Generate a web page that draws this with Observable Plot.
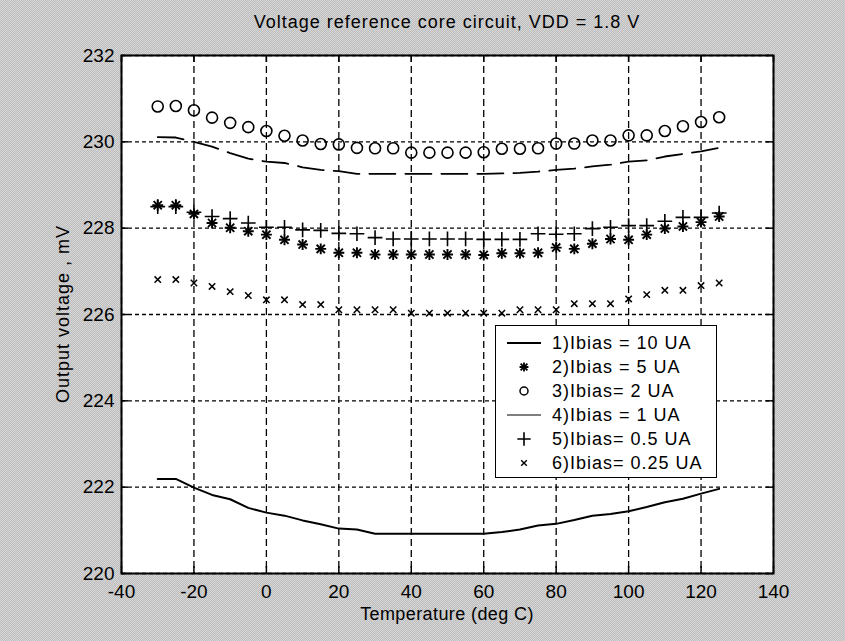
<!DOCTYPE html>
<html>
<head>
<meta charset="utf-8">
<script src="https://cdn.jsdelivr.net/npm/d3@7"></script>
<script src="https://cdn.jsdelivr.net/npm/@observablehq/plot@0.6"></script>
<style>
  html, body { margin: 0; padding: 0; }
  #fig {
    position: relative; width: 845px; height: 641px; overflow: hidden;
    background-color: #c8c8c8;
    background-image: repeating-conic-gradient(#bdbdbd 0 25%, #d6d6d6 0 50%);
    background-size: 2px 2px;
    font-family: "Liberation Sans", Arial, Helvetica, sans-serif; color: #000;
  }
  #chart { position: absolute; left: 0; top: 0; }
  .lbl { position: absolute; font-size: 18px; line-height: 18px; white-space: nowrap; }
  #title { left: 121px; width: 652px; top: 13px; text-align: center; letter-spacing: 1px; }
  #xlabel { left: 121px; width: 652px; top: 605px; text-align: center; letter-spacing: 0.4px; }
  #ylabel { left: 63px; top: 314px; transform: translate(-50%, -50%) rotate(-90deg); letter-spacing: 1px; }
  #legend {
    position: absolute; left: 495px; top: 325px; width: 222px; height: 153px;
    box-sizing: border-box; background: #fff; border: 1.5px solid #000;
  }
  .row { position: absolute; left: 0; height: 24px; width: 100%; }
  .row svg { position: absolute; left: 8px; top: 0; }
  .row span { position: absolute; left: 56px; top: 3px; font-size: 18px; line-height: 18px; letter-spacing: 1px; white-space: nowrap; }
</style>
</head>
<body>
<div id="fig">
  <div id="chart"></div>
  <div id="title" class="lbl">Voltage reference core circuit, VDD = 1.8 V</div>
  <div id="xlabel" class="lbl">Temperature (deg C)</div>
  <div id="ylabel" class="lbl">Output voltage , mV</div>
  <div id="legend"></div>
</div>
<script>
// Temperature sweep (deg C)
const temps = [-30, -25, -20, -15, -10, -5, 0, 5, 10, 15, 20, 25, 30, 35, 40, 45,
               50, 55, 60, 65, 70, 75, 80, 85, 90, 95, 100, 105, 110, 115, 120, 125];

// Output voltage (mV) for each bias current
const ibias10 = [222.19, 222.19, 221.99, 221.82, 221.72, 221.52, 221.41, 221.34, 221.23, 221.14, 221.04, 221.02, 220.92, 220.92, 220.92, 220.92,
                 220.92, 220.92, 220.92, 220.96, 221.02, 221.11, 221.15, 221.24, 221.34, 221.38, 221.44, 221.54, 221.65, 221.73, 221.85, 221.96];
const ibias5 = [228.53, 228.53, 228.33, 228.12, 228.01, 227.93, 227.85, 227.73, 227.62, 227.52, 227.43, 227.43, 227.39, 227.39, 227.39, 227.39,
                227.39, 227.39, 227.38, 227.42, 227.42, 227.43, 227.55, 227.52, 227.64, 227.75, 227.73, 227.85, 227.99, 228.04, 228.14, 228.27];
const ibias2 = [230.82, 230.83, 230.73, 230.56, 230.44, 230.34, 230.25, 230.14, 230.03, 229.95, 229.94, 229.86, 229.85, 229.85, 229.75, 229.75,
                229.75, 229.75, 229.76, 229.84, 229.84, 229.85, 229.96, 229.96, 230.03, 230.03, 230.15, 230.15, 230.25, 230.36, 230.46, 230.57];
const ibias1 = [230.11, 230.10, 230.00, 229.89, 229.74, 229.61, 229.54, 229.51, 229.41, 229.35, 229.32, 229.26, 229.26, 229.26, 229.26, 229.26,
                229.26, 229.26, 229.26, 229.27, 229.28, 229.31, 229.35, 229.38, 229.43, 229.47, 229.54, 229.57, 229.66, 229.72, 229.78, 229.86];
const ibias05 = [228.50, 228.50, 228.37, 228.27, 228.22, 228.12, 228.02, 228.02, 227.96, 227.95, 227.88, 227.87, 227.78, 227.75, 227.75, 227.75,
                 227.75, 227.75, 227.74, 227.74, 227.74, 227.87, 227.86, 227.87, 227.99, 228.02, 228.06, 228.06, 228.16, 228.25, 228.25, 228.35];
const ibias025 = [226.81, 226.81, 226.73, 226.65, 226.53, 226.44, 226.34, 226.34, 226.23, 226.23, 226.11, 226.11, 226.11, 226.11, 226.03, 226.03,
                  226.03, 226.03, 226.03, 226.03, 226.11, 226.11, 226.11, 226.25, 226.25, 226.25, 226.36, 226.46, 226.56, 226.56, 226.67, 226.73];

const xTicks = [-40, -20, 0, 20, 40, 60, 80, 100, 120, 140];
const yTicks = [220, 222, 224, 226, 228, 230, 232];

const legendLabels = ["1)Ibias = 10 UA", "2)Ibias = 5 UA", "3)Ibias= 2 UA", "4)Ibias = 1 UA", "5)Ibias= 0.5 UA", "6)Ibias= 0.25 UA"];

const rows = temps.map((t, i) => ({
  t, s1: ibias10[i], s2: ibias5[i], s3: ibias2[i], s4: ibias1[i], s5: ibias05[i], s6: ibias025[i]
}));

const W = 845, H = 641;
const mT = 55, mR = 72, mB = 68, mL = 121;
const plotW = W - mL - mR, plotH = H - mT - mB;
const tick = 7;
const ink = "black";
const plain = d => `${d}`; // ASCII hyphen for negatives

const chart = Plot.plot({
  width: W, height: H,
  marginTop: mT, marginRight: mR, marginBottom: mB, marginLeft: mL,
  style: { background: "transparent", fontFamily: "'Liberation Sans', Arial, sans-serif", fontSize: "19px", color: "black", overflow: "visible" },
  x: { domain: [-40, 140] },
  y: { domain: [220, 232] },
  marks: [
    Plot.frame({ fill: "white", stroke: null }),
    Plot.gridX(xTicks, { stroke: ink, strokeOpacity: 1, strokeWidth: 1.3, strokeDasharray: "7,4" }),
    Plot.gridY(yTicks, { stroke: ink, strokeOpacity: 1, strokeWidth: 1.3, strokeDasharray: "4,3" }),
    // inward tick marks on all four sides
    Plot.tickX(xTicks, { x: d => d, insetTop: plotH - tick, stroke: ink, strokeWidth: 1.5 }),
    Plot.tickX(xTicks, { x: d => d, insetBottom: plotH - tick, stroke: ink, strokeWidth: 1.5 }),
    Plot.tickY(yTicks, { y: d => d, insetRight: plotW - tick, stroke: ink, strokeWidth: 1.5 }),
    Plot.tickY(yTicks, { y: d => d, insetLeft: plotW - tick, stroke: ink, strokeWidth: 1.5 }),
    // 1) 10 uA: solid line
    Plot.line(rows, { x: "t", y: "s1", stroke: ink, strokeWidth: 2 }),
    // 4) 1 uA: long dashes
    Plot.line(rows, { x: "t", y: "s4", stroke: ink, strokeWidth: 1.8, strokeDasharray: "26,10" }),
    // 3) 2 uA: circles
    Plot.dot(rows, { x: "t", y: "s3", r: 5.5, stroke: ink, strokeWidth: 1.6, fill: "none" }),
    // 5) 0.5 uA: plus
    Plot.dot(rows, { x: "t", y: "s5", symbol: "plus", r: 4.8, stroke: ink, strokeWidth: 1.6 }),
    // 2) 5 uA: asterisk (plus + times)
    Plot.dot(rows, { x: "t", y: "s2", symbol: "plus", r: 3.6, stroke: ink, strokeWidth: 1.9 }),
    Plot.dot(rows, { x: "t", y: "s2", symbol: "times", r: 3.8, stroke: ink, strokeWidth: 1.9 }),
    // 6) 0.25 uA: times
    Plot.dot(rows, { x: "t", y: "s6", symbol: "times", r: 3, stroke: ink, strokeWidth: 1.5 }),
    Plot.axisX(xTicks, { tickSize: 0, tickPadding: 11, label: null, fontSize: 19, fill: ink, tickFormat: plain }),
    Plot.axisY(yTicks, { tickSize: 0, tickPadding: 7, label: null, fontSize: 19, fill: ink, tickFormat: plain }),
    Plot.frame({ stroke: ink, strokeWidth: 2 })
  ]
});
document.getElementById("chart").append(chart);

// Legend
const legend = d3.select("#legend");
const sym = (type, size) => d3.symbol(type, size)();
legendLabels.forEach((label, i) => {
  const row = legend.append("div").attr("class", "row").style("top", (5 + i * 24) + "px");
  const svg = row.append("svg").attr("width", 40).attr("height", 24);
  const g = svg.append("g").attr("transform", "translate(20,12)").attr("fill", "none").attr("stroke", "black");
  if (i === 0) g.append("line").attr("x1", -17).attr("x2", 17).attr("stroke-width", 2);
  if (i === 3) g.append("line").attr("x1", -17).attr("x2", 17).attr("stroke-width", 1.2);
  if (i === 1) {
    g.append("path").attr("d", sym(d3.symbolPlus, 28)).attr("stroke-width", 1.8);
    g.append("path").attr("d", sym(d3.symbolTimes, 32)).attr("stroke-width", 1.8);
  }
  if (i === 2) g.append("circle").attr("r", 4).attr("stroke-width", 1.5);
  if (i === 4) g.append("path").attr("d", sym(d3.symbolPlus, 60)).attr("stroke-width", 1.6);
  if (i === 5) g.append("path").attr("d", sym(d3.symbolTimes, 22)).attr("stroke-width", 1.4);
  row.append("span").text(label);
});
</script>
</body>
</html>
